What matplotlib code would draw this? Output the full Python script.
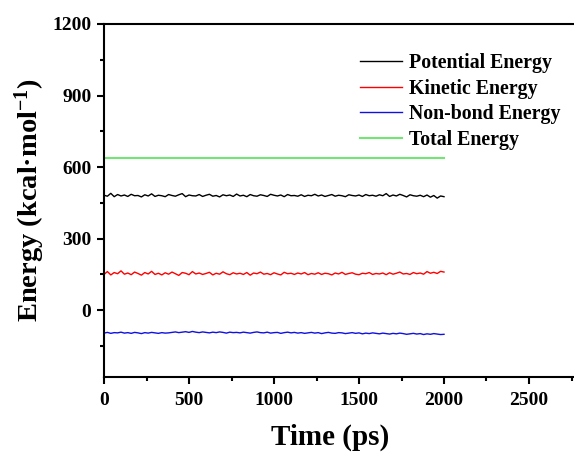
import matplotlib
matplotlib.use("Agg")
import matplotlib.pyplot as plt
from matplotlib.ticker import MultipleLocator

time = list(range(0, 2001, 20))

potential = [482,478,490,476,485,479,483,477,486,480,481,475,484,479,488,477,482,480,476,485,
481,478,484,489,476,483,480,479,485,477,482,486,478,481,475,484,480,483,477,487,
479,482,476,485,480,478,484,481,477,486,482,479,483,476,485,480,481,478,484,477,
482,480,486,479,483,477,481,485,478,482,480,476,484,481,479,483,477,485,480,482,
478,484,480,489,477,483,479,486,481,475,484,480,478,482,476,483,474,481,470,479,476]

kinetic = [150,162,148,158,153,165,151,156,149,160,154,147,158,152,163,150,155,148,157,151,
160,153,146,158,155,149,162,152,156,150,154,159,148,155,151,161,153,149,157,152,
155,150,158,147,156,153,160,151,154,149,157,152,148,159,153,155,150,156,152,158,
149,154,151,157,150,155,153,148,156,152,159,150,154,157,151,149,155,153,158,150,
154,152,156,149,157,151,155,160,152,154,150,158,153,156,151,162,155,159,154,163,160]

nonbond = [-96,-93,-97,-94,-95,-92,-96,-94,-97,-93,-95,-98,-94,-96,-93,-95,-97,-94,-96,-95,
-93,-91,-94,-92,-90,-93,-89,-92,-94,-91,-93,-95,-92,-94,-91,-93,-96,-92,-94,-93,
-95,-92,-94,-96,-93,-91,-94,-95,-92,-96,-94,-93,-97,-94,-92,-95,-93,-96,-94,-97,
-95,-93,-96,-94,-98,-95,-93,-96,-97,-94,-95,-98,-96,-94,-97,-95,-99,-96,-98,-95,
-97,-99,-96,-98,-100,-97,-99,-96,-98,-101,-99,-97,-100,-98,-102,-99,-101,-98,-100,-102,-101]

total_time = [0, 2000]
total = [638, 638]

labels = ["Potential Energy", "Kinetic Energy", "Non-bond Energy", "Total Energy"]
x_ticks = [0, 500, 1000, 1500, 2000, 2500]
y_ticks = [0, 300, 600, 900, 1200]

plt.rcParams['font.family'] = ['Liberation Serif', 'DejaVu Serif']
plt.rcParams['font.weight'] = 'bold'
plt.rcParams['mathtext.fontset'] = 'custom'
plt.rcParams['mathtext.rm'] = 'Liberation Serif:bold'
plt.rcParams['mathtext.bf'] = 'Liberation Serif:bold'
plt.rcParams['mathtext.default'] = 'bf'

fig = plt.figure(figsize=(5.74, 4.54), dpi=100)
ax = fig.add_axes([104/574, 77/454, 510/574, 353/454])

ax.plot(time, potential, color='black', lw=1.0, label=labels[0])
ax.plot(time, kinetic, color='#ff0000', lw=1.0, label=labels[1])
ax.plot(time, nonbond, color='#1010e0', lw=1.0, label=labels[2])
ax.plot(total_time, total, color='#74e474', lw=1.5, label=labels[3])

ax.set_xlim(0, 3000)
ax.set_ylim(-280, 1200)
ax.set_xticks(x_ticks)
ax.set_yticks(y_ticks)
ax.xaxis.set_minor_locator(MultipleLocator(250))
ax.yaxis.set_minor_locator(MultipleLocator(150))
ax.tick_params(which='major', direction='out', length=5, width=1.5, labelsize=14)
ax.tick_params(axis='x', which='major', pad=6)
ax.tick_params(axis='y', which='major', pad=4)
ax.tick_params(which='minor', direction='out', length=3, width=1.5)
for lab in ax.get_xticklabels() + ax.get_yticklabels():
    lab.set_fontweight('bold')
for s in ax.spines.values():
    s.set_linewidth(1.5)

ax.set_xlabel("Time (ps)", fontsize=21, fontweight='bold')
ax.xaxis.set_label_coords((330 - 104) / 510, -(424 - 377) / 353, transform=ax.transAxes)
ax.xaxis.label.set_va('top')
ax.set_ylabel("Energy (kcal·mol$^{-1}$)", fontsize=20.5, fontweight='bold', labelpad=4)

leg = ax.legend(loc='upper left', bbox_to_anchor=(352/574, 1 - 45/454),
                bbox_transform=fig.transFigure, frameon=False,
                prop={'family': 'Liberation Serif', 'weight': 'bold', 'size': 14.3},
                handlelength=2.1, handletextpad=0.35, labelspacing=0.28, borderaxespad=0)

fig.savefig("out.png", dpi=100)
